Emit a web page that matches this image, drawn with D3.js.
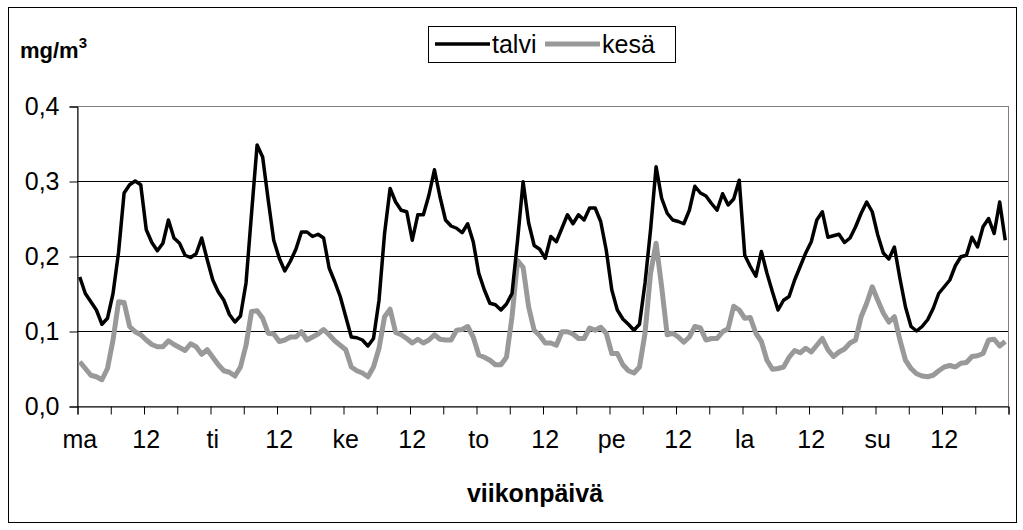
<!DOCTYPE html>
<html>
<head>
<meta charset="utf-8">
<script src="https://cdn.jsdelivr.net/npm/d3@7"></script>
<style>
  body { margin: 0; background: #fff; }
  text { font-family: "Liberation Sans", Arial, sans-serif; }
</style>
</head>
<body>
<div id="chart"></div>
<script>
// weekday labels (every 24 h), hour label between them
var dayLabels = ["ma", "ti", "ke", "to", "pe", "la", "su"];
var midLabel = "12";
var yTicks = [0, 0.1, 0.2, 0.3, 0.4];

// hourly values, mg/m3 (7 x 24)
var talvi = [
  0.172, 0.150, 0.139, 0.128, 0.109, 0.117, 0.150, 0.205, 0.284, 0.295, 0.300, 0.295,
  0.235, 0.218, 0.207, 0.217, 0.248, 0.224, 0.217, 0.201, 0.198, 0.203, 0.224, 0.195,
  0.168, 0.152, 0.141, 0.122, 0.112, 0.120, 0.164, 0.257, 0.348, 0.332, 0.275, 0.221,
  0.197, 0.180, 0.193, 0.209, 0.232, 0.232, 0.226, 0.229, 0.224, 0.184, 0.166, 0.146,
  0.119, 0.092, 0.091, 0.088, 0.080, 0.090, 0.141, 0.230, 0.290, 0.272, 0.261, 0.259,
  0.221, 0.255, 0.255, 0.281, 0.315, 0.279, 0.248, 0.240, 0.237, 0.231, 0.243, 0.219,
  0.177, 0.155, 0.137, 0.135, 0.128, 0.136, 0.150, 0.221, 0.299, 0.244, 0.214, 0.209,
  0.197, 0.226, 0.219, 0.237, 0.255, 0.243, 0.255, 0.248, 0.264, 0.264, 0.246, 0.208,
  0.155, 0.128, 0.116, 0.109, 0.101, 0.109, 0.164, 0.235, 0.319, 0.277, 0.257, 0.248,
  0.246, 0.243, 0.261, 0.293, 0.284, 0.280, 0.270, 0.261, 0.283, 0.268, 0.276, 0.301,
  0.201, 0.186, 0.173, 0.206, 0.177, 0.152, 0.128, 0.141, 0.146, 0.168, 0.186, 0.204,
  0.219, 0.248, 0.259, 0.225, 0.227, 0.229, 0.218, 0.224, 0.239, 0.257, 0.272, 0.259,
  0.228, 0.204, 0.196, 0.212, 0.170, 0.132, 0.106, 0.100, 0.106, 0.115, 0.130, 0.150,
  0.159, 0.168, 0.187, 0.199, 0.201, 0.225, 0.212, 0.239, 0.250, 0.230, 0.272, 0.221
];

var kesa = [
  0.059, 0.050, 0.041, 0.039, 0.035, 0.050, 0.088, 0.139, 0.138, 0.106, 0.099, 0.095,
  0.088, 0.082, 0.079, 0.079, 0.087, 0.082, 0.078, 0.074, 0.083, 0.079, 0.069, 0.075,
  0.065, 0.055, 0.047, 0.045, 0.040, 0.052, 0.081, 0.126, 0.127, 0.117, 0.097, 0.096,
  0.086, 0.088, 0.092, 0.092, 0.099, 0.088, 0.092, 0.096, 0.102, 0.095, 0.087, 0.081,
  0.075, 0.052, 0.047, 0.044, 0.039, 0.052, 0.077, 0.119, 0.129, 0.098, 0.095, 0.090,
  0.084, 0.089, 0.084, 0.088, 0.095, 0.089, 0.088, 0.088, 0.101, 0.102, 0.106, 0.092,
  0.068, 0.065, 0.061, 0.055, 0.055, 0.065, 0.119, 0.194, 0.185, 0.132, 0.101, 0.094,
  0.084, 0.084, 0.081, 0.099, 0.099, 0.096, 0.090, 0.090, 0.104, 0.101, 0.105, 0.097,
  0.070, 0.070, 0.055, 0.047, 0.044, 0.052, 0.097, 0.177, 0.217, 0.159, 0.095, 0.097,
  0.092, 0.085, 0.092, 0.106, 0.104, 0.088, 0.090, 0.090, 0.099, 0.103, 0.133, 0.128,
  0.117, 0.118, 0.097, 0.086, 0.061, 0.049, 0.050, 0.052, 0.065, 0.074, 0.071, 0.077,
  0.072, 0.081, 0.090, 0.075, 0.066, 0.072, 0.076, 0.084, 0.088, 0.119, 0.137, 0.159,
  0.141, 0.124, 0.112, 0.119, 0.088, 0.061, 0.050, 0.043, 0.040, 0.039, 0.041, 0.047,
  0.052, 0.054, 0.052, 0.057, 0.058, 0.066, 0.067, 0.070, 0.088, 0.089, 0.080, 0.086
];

function main() {
    var W = 1023, H = 530;
    var margin = {top: 106, right: 15, bottom: 124, left: 77},
        width = W - margin.left - margin.right,
        height = H - margin.top - margin.bottom;
    var fontSize = 25;

    var svg = d3.select("#chart").append("svg")
        .attr("width", W)
        .attr("height", H);

    // outer chart border
    svg.append("rect")
        .attr("x", 8.5).attr("y", 7.5)
        .attr("width", 1008).attr("height", 515)
        .attr("fill", "#fff")
        .attr("stroke", "#000")
        .attr("stroke-width", 1);

    var g = svg.append("g")
        .attr("transform", "translate(" + margin.left + "," + margin.top + ")");

    var hours = d3.range(talvi.length);
    var x = d3.scaleBand().domain(hours).range([0, width]);
    var xEdge = d3.scaleLinear().domain([0, hours.length]).range([0, width]);
    var y = d3.scaleLinear().domain([0, 0.4]).range([height, 0]);

    // plot area border (grey)
    g.append("rect")
        .attr("x", 0.5).attr("y", 0.5)
        .attr("width", width).attr("height", height)
        .attr("fill", "none")
        .attr("stroke", "#808080");

    // horizontal gridlines
    g.selectAll(".grid")
        .data(yTicks.filter(function (d) { return d > 0 && d < 0.4; }))
        .enter().append("line")
        .attr("x1", 0).attr("x2", width)
        .attr("y1", function (d) { return Math.round(y(d)) + 0.5; })
        .attr("y2", function (d) { return Math.round(y(d)) + 0.5; })
        .attr("stroke", "#000")
        .attr("stroke-width", 1);

    // y axis
    var fmt = d3.format(".1f");
    var yAxis = g.append("g")
        .attr("transform", "translate(0.5,0.5)")
        .call(d3.axisLeft(y).tickValues(yTicks).tickSize(8).tickPadding(10)
            .tickFormat(function (d) { return fmt(d).replace(".", ","); }));
    yAxis.select(".domain").attr("stroke", "#000");
    yAxis.selectAll("text")
        .attr("font-family", "Liberation Sans, Arial, sans-serif")
        .attr("font-size", fontSize)
        .attr("fill", "#000");

    // x axis: ticks every 6 hours on the category edges
    var xAxis = g.append("g")
        .attr("transform", "translate(0.5," + (height + 0.5) + ")")
        .call(d3.axisBottom(xEdge).tickValues(d3.range(0, hours.length + 1, 6)).tickSize(8).tickFormat(""));
    xAxis.select(".domain").attr("stroke", "#000");

    // x labels every 12 hours, centred on the category
    var xLabels = hours.filter(function (h) { return h % 12 === 0; });
    g.append("g")
        .selectAll("text")
        .data(xLabels)
        .enter().append("text")
        .attr("x", function (h) { return x(h) + x.bandwidth() / 2; })
        .attr("y", height + 42)
        .attr("text-anchor", "middle")
        .attr("font-size", fontSize)
        .text(function (h) { return h % 24 === 0 ? dayLabels[h / 24] : midLabel; });

    // lines
    var line = function (arr) {
        return d3.line()
            .x(function (d, i) { return x(i) + x.bandwidth() / 2; })
            .y(function (d) { return y(d); })(arr);
    };
    g.append("path")
        .attr("d", line(kesa))
        .attr("fill", "none")
        .attr("stroke", "#999999")
        .attr("stroke-width", 5)
        .attr("stroke-linejoin", "round");
    g.append("path")
        .attr("d", line(talvi))
        .attr("fill", "none")
        .attr("stroke", "#000")
        .attr("stroke-width", 3.5)
        .attr("stroke-linejoin", "round");

    // y unit label
    var unit = svg.append("text")
        .attr("x", 20).attr("y", 58)
        .attr("font-size", 22)
        .attr("font-weight", "bold");
    unit.append("tspan").text("mg/m");
    unit.append("tspan").attr("dy", -10).attr("font-size", 15).text("3");

    // x axis title
    svg.append("text")
        .attr("x", 535).attr("y", 502)
        .attr("text-anchor", "middle")
        .attr("font-size", fontSize)
        .attr("font-weight", "bold")
        .text("viikonpäivä");

    // legend
    var leg = svg.append("g").attr("transform", "translate(428,26)");
    leg.append("rect")
        .attr("x", 0.5).attr("y", 0.5)
        .attr("width", 247).attr("height", 36)
        .attr("fill", "#fff").attr("stroke", "#000");
    var items = [
        {name: "talvi", color: "#000", w: 3.5, x0: 7},
        {name: "kesä", color: "#999999", w: 5, x0: 117}
    ];
    items.forEach(function (it) {
        leg.append("line")
            .attr("x1", it.x0).attr("x2", it.x0 + 55)
            .attr("y1", 18).attr("y2", 18)
            .attr("stroke", it.color).attr("stroke-width", it.w);
        leg.append("text")
            .attr("x", it.x0 + 57).attr("y", 27)
            .attr("font-size", fontSize)
            .text(it.name);
    });
}

main();
</script>
</body>
</html>
